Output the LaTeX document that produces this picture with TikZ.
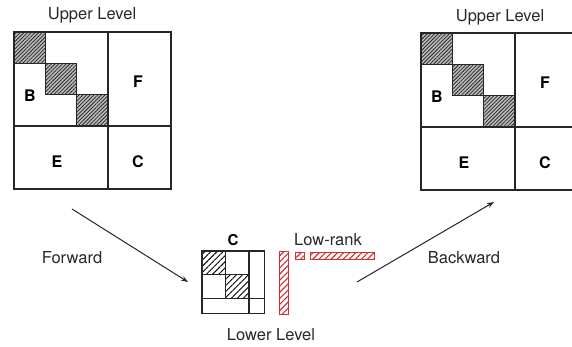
\documentclass[tikz,border=0pt]{standalone}
\usepackage{fontspec}
\setmainfont{TeX Gyre Heros}
\usetikzlibrary{patterns.meta,arrows.meta}
\definecolor{lrred}{RGB}{214,45,50}
\definecolor{inkgray}{RGB}{40,40,40}
\tikzset{
  mline/.style={line width=1.1pt, draw=black!85},
  darkhatch/.style={preaction={fill=gray!55}, pattern={Lines[angle=45,distance=2.6pt,line width=0.75pt]}, pattern color=black!85},
  lighthatch/.style={pattern={Lines[angle=45,distance=4.3pt,line width=0.9pt]}, pattern color=black},
  redhatch/.style={draw=lrred, line width=0.9pt, pattern={Lines[angle=45,distance=4.3pt,line width=1.1pt]}, pattern color=lrred},
  lbl/.style={font=\fontsize{16.5}{18}\selectfont, text=inkgray, inner sep=0pt},
  blk/.style={font=\fontsize{16}{18}\selectfont\bfseries, inner sep=0pt},
  arr/.style={line width=1pt, draw=black!85, -{Stealth[length=7pt,width=5pt]}},
  uppermat/.pic={
    \draw[darkhatch, mline] (0,0) rectangle (31.33,31.33);
    \draw[darkhatch, mline] (31.33,31.33) rectangle (62.67,62.67);
    \draw[darkhatch, mline] (62.67,62.67) rectangle (94,94);
    \draw[mline] (0,0) rectangle (157,157);
    \draw[mline] (94,0) -- (94,157);
    \draw[mline] (0,94) -- (157,94);
    \node[blk] (-B) at (16,64) {B};
    \node[blk] (-F) at (124,50) {F};
    \node[blk] (-E) at (43,130) {E};
    \node[blk] (-C) at (124,130) {C};
  }
}
\begin{document}
\begin{tikzpicture}[x=1pt,y=-1pt]
\useasboundingbox (0,0) rectangle (572,347);
\clip (0,0) rectangle (572,347);
\fill[white] (0,0) rectangle (572,347);

% upper matrices
\pic (ul) at (14,32) {uppermat};
\pic (ur) at (421,33) {uppermat};
\node[lbl] (ultitle) at (92,15) {Upper Level};
\node[lbl] (urtitle) at (500,17) {Upper Level};

% lower matrix
\draw[lighthatch, mline] (202,251) rectangle (225.5,274.8);
\draw[lighthatch, mline] (225.5,274.8) rectangle (249,298.6);
\draw[mline] (202,251) rectangle (264.3,313.3);
\draw[mline] (249,251) -- (249,313.3);
\draw[mline] (202,298.6) -- (264.3,298.6);
\node[blk, font=\fontsize{15}{17}\selectfont\bfseries] (lc) at (233,240) {C};
\node[lbl] (lowtitle) at (271,335) {Lower Level};

% low-rank bars
\draw[redhatch] (279.5,251.5) rectangle (288.3,314);
\draw[redhatch] (295.5,252.2) rectangle (304,259.3);
\draw[redhatch] (310.7,252.2) rectangle (374,259.3);
\node[lbl] (lr) at (328,240) {Low-rank};

% arrows
\coordinate (f1) at (72,209);
\coordinate (f2) at (188,282);
\draw[arr] (f1) -- (f2);
\node[lbl] (fw) at (72,258) {Forward};
\coordinate (b1) at (357,282);
\coordinate (b2) at (494,202);
\draw[arr] (b1) -- (b2);
\node[lbl] (bw) at (464,258) {Backward};
\end{tikzpicture}
\end{document}
